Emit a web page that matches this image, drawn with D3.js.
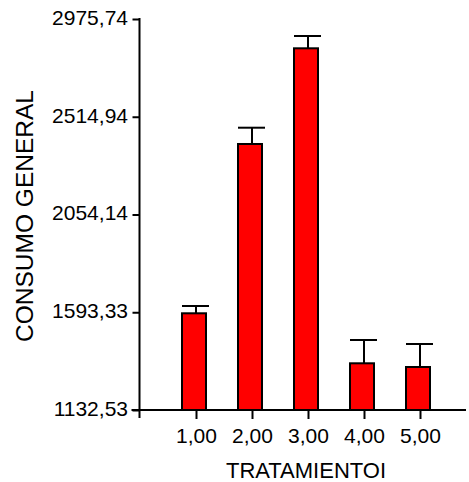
<script src="https://cdn.jsdelivr.net/npm/d3@7"></script>
<style>
  body { margin: 0; background: #fff; }
  text { font-family: "Liberation Sans", Arial, sans-serif; fill: #000; }
</style>
<svg width=469 height=482></svg>
<script>
var categories = ["1,00", "2,00", "3,00", "4,00", "5,00"]
var means = [1588.4, 2386.5, 2837.6, 1352.7, 1335.2]
var errTops = [1622.8, 2463.3, 2895.6, 1462.5, 1443.7]
var yTicks = [1132.53, 1593.33, 2054.14, 2514.94, 2975.74]
var yTickLabels = ["1132,53", "1593,33", "2054,14", "2514,94", "2975,74"]

var svg = d3.select('svg')
var axisX = 139.5, baseY = 410

var x = d3.scalePoint().domain(categories).range([196, 420])
var y = d3.scaleLinear().domain([yTicks[0], yTicks[4]]).range([baseY, 19])

  //Y axis
  var gy = svg.append('g')
    .attr('transform', 'translate(' + axisX + ',0)')
    .call(d3.axisLeft(y).tickValues(yTicks).tickSize(7).tickPadding(4.5).tickSizeOuter(0)
      .tickFormat(function(d, i) { return yTickLabels[i] }))
  gy.select('.domain').remove()
  gy.selectAll('line').attr('stroke', '#000').attr('stroke-width', 2)
  gy.selectAll('text').attr('font-size', 21).attr('dy', 5.5)
    .style('font-family', '"Liberation Sans", Arial, sans-serif')
  gy.append('line')
    .attr('x1', 0).attr('x2', 0)
    .attr('y1', y(yTicks[4]) - 1).attr('y2', baseY + 8)
    .attr('stroke', '#000').attr('stroke-width', 2)

  //X axis
  var gx = svg.append('g')
    .attr('transform', 'translate(0,' + baseY + ')')
    .call(d3.axisBottom(x).tickSize(9).tickSizeOuter(0))
  gx.select('.domain').remove()
  gx.selectAll('line').attr('stroke', '#000').attr('stroke-width', 2)
  gx.selectAll('text').attr('font-size', 21).attr('y', 33).attr('dy', 0)
    .style('font-family', '"Liberation Sans", Arial, sans-serif')
  gx.append('line')
    .attr('x1', axisX - 8).attr('x2', 466)
    .attr('y1', 0).attr('y2', 0)
    .attr('stroke', '#000').attr('stroke-width', 2)

  //Error bars
  var err = svg.append('g').selectAll('g')
    .data(categories)
    .join('g')
  err.append('line')
    .attr('x1', function(d) { return x(d) }).attr('x2', function(d) { return x(d) })
    .attr('y1', function(d, i) { return y(means[i]) })
    .attr('y2', function(d, i) { return y(errTops[i]) })
    .attr('stroke', '#000').attr('stroke-width', 2)
  err.append('line')
    .attr('x1', function(d) { return x(d) - 14 }).attr('x2', function(d) { return x(d) + 13 })
    .attr('y1', function(d, i) { return y(errTops[i]) })
    .attr('y2', function(d, i) { return y(errTops[i]) })
    .attr('stroke', '#000').attr('stroke-width', 2)

  //Bars
  svg.append('g').selectAll('rect')
    .data(categories)
    .join('rect')
    .attr('x', function(d) { return x(d) - 14 })
    .attr('width', 24)
    .attr('y', function(d, i) { return y(means[i]) })
    .attr('height', function(d, i) { return baseY - y(means[i]) })
    .attr('fill', '#ff0000')
    .attr('stroke', '#000')
    .attr('stroke-width', 2)

  //Titles
  svg.append('text')
    .attr('x', 306).attr('y', 478)
    .attr('text-anchor', 'middle')
    .attr('font-size', 22)
    .text('TRATAMIENTOI')

  svg.append('text')
    .attr('transform', 'translate(33,216) rotate(-90)')
    .attr('text-anchor', 'middle')
    .attr('font-size', 24.5)
    .text('CONSUMO GENERAL')
</script>
